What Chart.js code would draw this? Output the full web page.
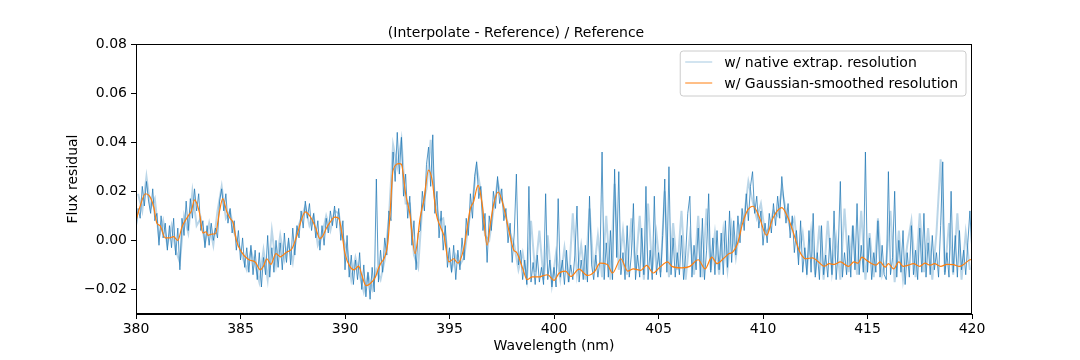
<!DOCTYPE html>
<html><head><meta charset="utf-8">
<script src="https://cdn.jsdelivr.net/npm/chart.js@4"></script>
<style>html,body{margin:0;padding:0;background:#fff}#wrap{width:1080px;height:360px}</style>
</head><body><div id="wrap"><canvas id="c" width="1080" height="360"></canvas></div>
<script>
// ---- data ----
const chartTitle = '(Interpolate - Reference) / Reference';
const xTitle = 'Wavelength (nm)';
const yTitle = 'Flux residual';
const nativeLabel = 'w/ native extrap. resolution';
const smoothLabel = 'w/ Gaussian-smoothed resolution';
const xTicks = [380, 385, 390, 395, 400, 405, 410, 415, 420];
const yTicks = [-0.02, 0.00, 0.02, 0.04, 0.06, 0.08];
const xMin = 380, xMax = 420, yMin = -0.03, yMax = 0.08;

// native-resolution residual, sampled every 0.1 nm from 380.0 nm
const nativeStart = 380.0, nativeStep = 0.1;
const nativeFlux = [
0.004,0.013,0.009,0.022,0.014,0.024,0.016,0.011,0.021,0.008,
0.011,-0.002,0.010,0.001,0.007,-0.004,0.006,-0.003,0.009,-0.006,
0.005,-0.012,0.009,0.002,0.016,0.004,0.017,0.009,0.021,0.012,
0.019,0.004,0.008,-0.003,0.006,-0.002,0.007,0.000,0.005,0.001,
0.016,0.021,0.012,0.019,0.007,0.013,0.003,0.008,-0.004,0.004,
-0.008,0.001,-0.011,-0.003,-0.013,-0.002,-0.014,-0.004,-0.016,-0.005,
-0.019,-0.007,-0.014,0.002,-0.015,-0.003,-0.013,0.000,-0.011,-0.001,
-0.012,0.003,-0.009,0.001,-0.010,0.005,-0.006,0.006,0.001,0.012,
0.005,0.016,0.009,0.015,0.004,0.011,0.001,0.008,-0.004,0.006,
-0.002,0.009,0.003,0.012,0.006,0.014,0.005,0.013,0.000,0.008,
-0.012,0.002,-0.015,-0.006,-0.018,-0.008,-0.016,-0.005,-0.020,-0.010,
-0.023,-0.013,-0.024,-0.011,-0.021,0.025,-0.017,-0.004,-0.013,0.001,
-0.006,0.012,0.008,0.036,0.024,0.044,0.027,0.042,0.018,0.027,
0.009,0.018,-0.002,0.008,-0.012,0.003,0.004,0.020,0.012,0.031,
0.038,0.022,0.043,0.011,0.020,0.001,0.012,-0.004,0.006,-0.011,
-0.003,-0.013,-0.002,-0.016,-0.004,-0.012,0.001,-0.008,0.009,0.002,
0.019,0.009,0.026,0.032,0.017,0.022,0.004,0.011,-0.009,0.010,
0.004,0.020,0.013,0.026,0.015,0.021,0.008,0.013,-0.001,0.007,
-0.009,0.003,0.027,-0.010,-0.004,-0.016,-0.008,-0.018,0.022,-0.017,
-0.009,-0.018,-0.006,-0.017,-0.011,-0.018,0.019,-0.016,-0.008,-0.019,
-0.011,-0.019,0.017,-0.015,-0.008,-0.018,-0.004,-0.017,-0.010,-0.016,
-0.006,0.014,-0.017,-0.008,-0.016,-0.002,-0.017,0.018,-0.010,-0.016,
-0.006,-0.015,-0.008,0.036,-0.016,-0.001,-0.015,0.004,-0.016,0.029,
-0.007,0.028,-0.014,-0.005,-0.016,0.006,-0.015,-0.006,0.015,-0.016,
-0.006,-0.015,0.005,-0.014,0.022,-0.016,-0.004,-0.016,0.018,-0.014,
-0.005,-0.015,0.002,0.025,-0.013,0.030,-0.014,0.001,-0.015,-0.005,
-0.014,0.002,-0.016,-0.006,0.011,0.018,-0.015,-0.002,-0.012,0.005,
-0.015,0.009,-0.016,-0.004,0.019,-0.013,0.001,-0.014,0.004,-0.012,
0.003,-0.014,0.008,-0.011,0.012,-0.009,0.008,-0.006,0.010,-0.001,
0.013,0.004,0.019,0.008,0.022,0.028,0.011,0.018,0.005,0.012,
-0.002,0.007,-0.001,0.011,0.003,0.015,0.006,0.018,0.009,0.026,
0.016,0.007,0.015,0.001,0.010,-0.005,0.004,-0.010,0.008,-0.013,
-0.003,-0.014,0.004,-0.013,0.011,-0.015,-0.005,-0.016,0.006,-0.014,
-0.006,-0.015,0.001,-0.014,0.012,-0.016,-0.004,0.024,-0.015,-0.005,
-0.014,0.002,-0.015,0.006,-0.012,0.015,-0.014,-0.002,-0.013,0.036,
-0.013,0.001,-0.016,-0.005,-0.013,0.008,-0.015,-0.002,-0.014,-0.016,
0.028,-0.014,-0.007,0.020,-0.015,0.000,-0.013,0.004,-0.018,-0.005,
-0.015,0.006,-0.014,-0.004,-0.016,0.005,-0.013,0.011,-0.015,-0.001,
-0.014,0.002,-0.012,-0.005,-0.015,0.006,0.032,-0.014,-0.005,-0.015,
0.020,-0.013,0.002,-0.015,0.004,-0.012,-0.004,-0.014,-0.001,0.012,
-0.006];

// pale native strand, sampled every 0.2 nm from 380.1 nm
const paleStart = 380.1, paleStep = 0.2;
const paleFlux = [
0.019,0.012,0.026,0.013,0.017,0.001,0.008,-0.002,0.006,-0.004,
-0.009,0.010,0.003,0.020,0.006,0.009,-0.001,0.007,-0.002,0.012,
0.022,0.009,0.012,0.003,-0.001,-0.007,-0.012,-0.004,-0.010,-0.017,
-0.004,-0.016,0.004,-0.010,0.002,-0.008,-0.001,-0.009,0.004,0.009,
0.014,0.006,0.010,-0.002,0.002,0.010,0.004,0.012,0.011,0.001,
-0.004,-0.016,-0.007,-0.014,-0.021,-0.014,-0.020,-0.012,-0.016,-0.008,
0.009,0.039,0.030,0.041,0.015,0.015,-0.006,-0.011,0.014,0.021,
0.041,0.017,0.008,0.009,-0.004,-0.012,-0.006,-0.010,-0.007,0.006,
0.016,0.030,0.020,0.002,0.000,0.012,0.024,0.017,0.010,0.003,
-0.002,-0.012,-0.005,-0.016,0.008,-0.013,0.004,-0.016,0.002,-0.018,
-0.005,-0.016,-0.003,-0.017,0.011,-0.014,-0.002,-0.016,0.013,-0.013,
0.002,-0.015,0.010,-0.016,0.023,-0.012,0.004,-0.014,0.009,-0.012,
0.010,-0.016,0.015,-0.012,0.003,-0.013,0.020,-0.015,0.007,-0.012,
0.012,-0.016,0.002,-0.014,0.010,-0.015,0.013,-0.012,0.003,-0.014,
0.004,-0.012,0.006,-0.007,0.006,0.010,0.024,0.016,0.009,0.015,
0.003,0.005,0.012,0.010,0.021,0.012,0.005,0.009,-0.006,0.003,
-0.012,0.004,-0.014,0.006,-0.016,0.008,-0.013,0.001,-0.016,0.013,
-0.013,0.006,-0.014,0.012,-0.016,0.003,-0.015,0.009,-0.014,-0.008,
0.012,-0.017,0.004,-0.016,-0.002,0.008,-0.015,0.011,-0.013,0.005,
-0.016,0.003,0.033,-0.013,0.007,-0.014,0.011,-0.016,0.003,-0.012];

// Gaussian-smoothed residual
const smoothWl = [380.0,380.2,380.45,380.65,380.85,381.0,381.15,381.4,381.6,381.8,382.0,382.2,382.5,382.65,382.8,383.03,383.2,383.35,383.45,383.6,383.8,384.0,384.15,384.35,384.5,384.65,384.8,385.05,385.4,385.7,385.95,386.1,386.26,386.45,386.7,386.9,387.2,387.46,387.7,387.9,388.1,388.4,388.6,388.8,388.95,389.1,389.3,389.5,389.7,389.85,390.0,390.25,390.44,390.65,390.8,391.0,391.2,391.45,391.6,391.7,391.9,392.05,392.15,392.3,392.6,392.7,392.9,393.1,393.35,393.6,393.77,394.0,394.17,394.36,394.57,394.73,394.97,395.2,395.4,395.68,396.0,396.15,396.37,396.56,396.8,396.96,397.12,397.33,397.55,397.84,398.08,398.2,398.48,398.72,398.96,399.3,399.5,399.7,400.0,400.25,400.55,400.8,401.2,401.6,401.96,402.2,402.55,402.8,403.2,403.52,403.8,404.15,404.43,404.75,405.07,405.44,405.64,406.1,406.5,406.9,407.23,407.55,407.8,408.1,408.38,408.55,408.78,409.02,409.26,409.53,409.82,410.17,410.46,410.9,411.18,411.42,411.73,412.05,412.37,412.66,412.93,413.17,413.4,413.7,414.1,414.35,414.55,414.73,414.97,415.2,415.4,415.6,415.85,416.0,416.25,416.5,416.7,416.95,417.2,417.5,417.75,418.0,418.2,418.5,418.8,419.1,419.4,419.6,419.9,420.0];
const smoothFlux = [0.008,0.014,0.019,0.018,0.0135,0.007,0.006,0.001,0.001,0.0015,0.000,0.0055,0.010,0.012,0.0165,0.0115,0.003,0.0035,0.002,0.0025,0.0027,0.012,0.017,0.0115,0.009,0.007,0.000,-0.0048,-0.0079,-0.0088,-0.012,-0.0105,-0.0075,-0.0098,-0.0054,-0.0067,-0.0048,-0.0034,0.002,0.008,0.0116,0.0088,0.005,0.0007,0.002,0.0048,0.0075,0.0095,0.009,0.003,-0.0054,-0.0109,-0.012,-0.0105,-0.014,-0.0184,-0.0177,-0.015,-0.0115,-0.0095,-0.0068,-0.001,0.010,0.0286,0.0313,0.031,0.019,0.011,-0.0054,0.0095,0.0163,0.0286,0.0245,0.011,0.0054,0.002,-0.0088,-0.0075,-0.0093,-0.0034,0.013,0.0157,0.0224,0.015,-0.002,0.007,0.015,0.0197,0.015,0.004,-0.0041,-0.0048,-0.0109,-0.016,-0.0149,-0.0149,-0.0143,-0.014,-0.0163,-0.0133,-0.0125,-0.0147,-0.0117,-0.0143,-0.0125,-0.0093,-0.0098,-0.0133,-0.0075,-0.0125,-0.0116,-0.0122,-0.0102,-0.0133,-0.0109,-0.0088,-0.0106,-0.0112,-0.0106,-0.0079,-0.0116,-0.0068,-0.0095,-0.0075,-0.0054,-0.0048,-0.0014,0.0068,0.0122,0.0139,0.0095,0.002,0.0088,0.0133,0.0095,0.004,-0.0041,-0.0075,-0.0071,-0.0088,-0.0106,-0.0095,-0.0098,-0.0088,-0.0106,-0.0088,-0.0093,-0.0068,-0.0082,-0.0095,-0.0101,-0.0088,-0.0109,-0.0095,-0.0116,-0.0088,-0.0106,-0.0101,-0.0095,-0.0106,-0.0093,-0.0101,-0.0095,-0.0106,-0.0098,-0.0099,-0.0106,-0.0098,-0.0079,-0.0078];

// ---- build ----
const FONT = "'DejaVu Sans', sans-serif";
const FS = 14;
Chart.defaults.font.family = FONT;
Chart.defaults.font.size = FS;
Chart.defaults.color = '#000';

const toPts = (start, step, arr) => arr.map((v, i) => ({x: +(start + i * step).toFixed(3), y: v}));
const nativePts = toPts(nativeStart, nativeStep, nativeFlux);
const palePts = toPts(paleStart, paleStep, paleFlux);
const smoothPts = smoothWl.map((w, i) => ({x: w, y: smoothFlux[i]}));

const BLUE = '#1f77b4', PALE = 'rgba(31,119,180,0.3)', ORANGE = '#ff7f0e';

const framePlugin = {
  id: 'frame',
  afterDatasetsDraw(chart) {
    const {ctx, chartArea: a} = chart;
    ctx.save();
    ctx.strokeStyle = '#000';
    ctx.lineWidth = 1;
    ctx.strokeRect(Math.round(a.left) + 0.5, Math.round(a.top) + 0.5, Math.round(a.right - a.left) - 1, Math.round(a.bottom - a.top) - 1);
    ctx.restore();
  }
};

const legendPlugin = {
  id: 'boxLegend',
  afterDraw(chart) {
    const {ctx, chartArea: a} = chart;
    const items = chart.data.datasets.filter(d => d.inLegend).sort((p, q) => p.legendIndex - q.legendIndex);
    ctx.save();
    ctx.font = FS + 'px ' + FONT;
    const tw = Math.max(...items.map(it => ctx.measureText(it.label).width));
    const w = 44 + tw + 8, h = 45;
    const x0 = a.right - 6 - w, y0 = a.top + 7;
    const r = 3;
    ctx.beginPath();
    ctx.moveTo(x0 + r, y0);
    ctx.arcTo(x0 + w, y0, x0 + w, y0 + h, r);
    ctx.arcTo(x0 + w, y0 + h, x0, y0 + h, r);
    ctx.arcTo(x0, y0 + h, x0, y0, r);
    ctx.arcTo(x0, y0, x0 + w, y0, r);
    ctx.closePath();
    ctx.fillStyle = 'rgba(255,255,255,0.8)';
    ctx.fill();
    ctx.strokeStyle = '#cccccc';
    ctx.lineWidth = 1;
    ctx.stroke();
    items.forEach((it, i) => {
      const y = y0 + 11 + i * 21;
      ctx.beginPath();
      ctx.moveTo(x0 + 5, y);
      ctx.lineTo(x0 + 32, y);
      ctx.strokeStyle = it.legendColor;
      ctx.lineWidth = it.legendWidth;
      ctx.stroke();
      ctx.fillStyle = '#000';
      ctx.textBaseline = 'middle';
      ctx.textAlign = 'left';
      ctx.fillText(it.label, x0 + 44, y + 1);
    });
    ctx.restore();
  }
};

new Chart(document.getElementById('c'), {
  type: 'line',
  data: {
    datasets: [
      {label: smoothLabel, data: smoothPts, borderColor: ORANGE, borderWidth: 1.2, pointRadius: 0,
       cubicInterpolationMode: 'monotone', order: 0, inLegend: true, legendIndex: 1, legendColor: ORANGE, legendWidth: 1},
      {label: '', data: nativePts, borderColor: BLUE, borderWidth: 0.75, pointRadius: 0, tension: 0, order: 1},
      {label: nativeLabel, data: palePts, borderColor: PALE, borderWidth: 2, pointRadius: 0, tension: 0, order: 2,
       inLegend: true, legendIndex: 0, legendColor: 'rgba(31,119,180,0.2)', legendWidth: 2}
    ]
  },
  options: {
    responsive: false,
    animation: false,
    devicePixelRatio: 1,
    parsing: false,
    normalized: true,
    layout: {padding: {left: 60, right: 108, top: 25, bottom: 0}},
    plugins: {
      legend: {display: false},
      tooltip: {enabled: false},
      title: {display: true, text: chartTitle, font: {size: FS, weight: 'normal'}, color: '#000', padding: {top: 0, bottom: 2.2}}
    },
    scales: {
      x: {
        type: 'linear', min: xMin, max: xMax,
        afterBuildTicks: s => { s.ticks = xTicks.map(v => ({value: v})); },
        afterFit: s => { s.height = 46; },
        ticks: {callback: v => String(v), padding: 2, maxRotation: 0, autoSkip: false, color: '#000'},
        grid: {drawOnChartArea: false, drawTicks: true, tickLength: 5, color: '#000'},
        border: {display: true, color: '#000'},
        title: {display: true, text: xTitle, color: '#000', font: {size: FS}, padding: {top: 0, bottom: 5}}
      },
      y: {
        type: 'linear', min: yMin, max: yMax,
        afterBuildTicks: s => { s.ticks = yTicks.map(v => ({value: v})); },
        afterFit: s => { s.width = 76; },
        ticks: {callback: v => (v < 0 ? '\u2212' : '') + Math.abs(v).toFixed(2), padding: 4, autoSkip: false, color: '#000'},
        grid: {drawOnChartArea: false, drawTicks: true, tickLength: 5, color: '#000'},
        border: {display: true, color: '#000'},
        title: {display: true, text: yTitle, color: '#000', font: {size: FS}, padding: {top: 4.6, bottom: 0}}
      }
    }
  },
  plugins: [framePlugin, legendPlugin]
});
</script></body></html>
